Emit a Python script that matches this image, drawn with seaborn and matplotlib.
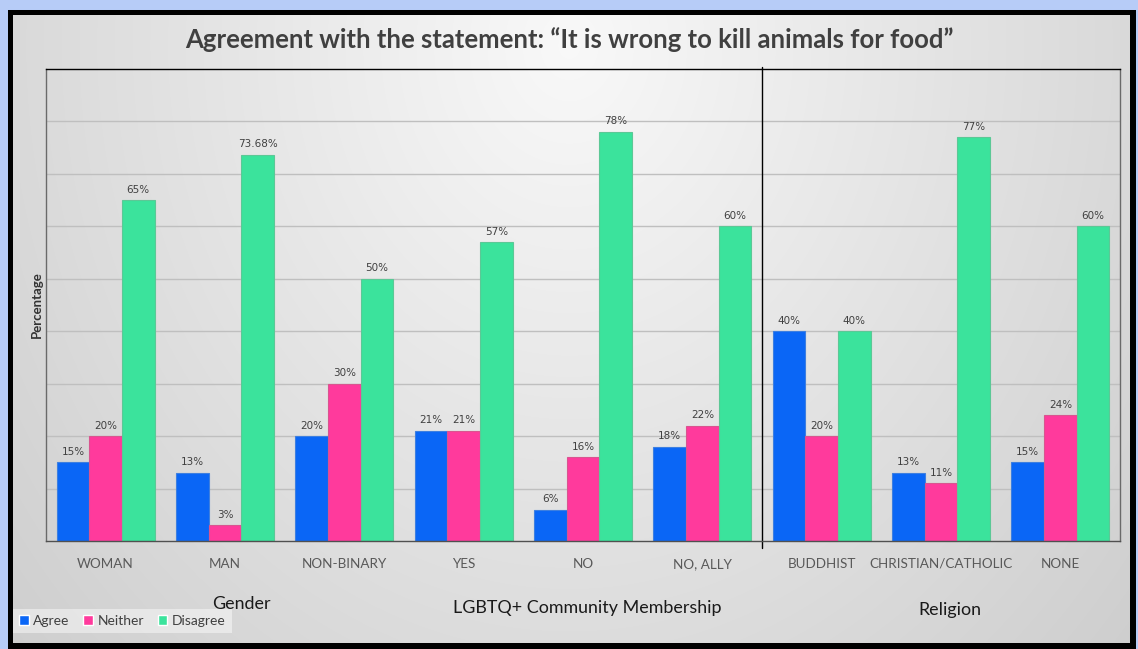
import numpy as np
import pandas as pd
import matplotlib
matplotlib.use("Agg")
import matplotlib.pyplot as plt
import seaborn as sns

# Survey responses by group (percent)
groups = ["WOMAN", "MAN", "NON-BINARY", "YES", "NO", "NO, ALLY",
          "BUDDHIST", "CHRISTIAN/CATHOLIC", "NONE"]
agree = [15, 13, 20, 21, 6, 18, 40, 13, 15]
neither = [20, 3, 30, 21, 16, 22, 20, 11, 24]
disagree = [65, 73.68, 50, 57, 78, 60, 40, 77, 60]
responses = ["Agree", "Neither", "Disagree"]
section_names = ["Gender", "LGBTQ+ Community Membership", "Religion"]

colors = {"Agree": "#0A66F6", "Neither": "#FF3A9C", "Disagree": "#3BE39C"}
edges = {"Agree": "#3D7FE0", "Neither": "#D9558F", "Disagree": "#5CC896"}

df = pd.DataFrame({
    "group": groups * 3,
    "response": sum([[r] * len(groups) for r in responses], []),
    "value": agree + neither + disagree,
})

sns.set_theme(style="white")
plt.rcParams["font.family"] = ["Lato", "DejaVu Sans"]

W, H = 1138, 649
fig = plt.figure(figsize=(W / 100, H / 100), dpi=100)

# Framed background: blue glow, black border, soft grey gradient inside
bg = fig.add_axes([0, 0, 1, 1], zorder=-10)
yy, xx = np.mgrid[0:H, 0:W]
img = np.zeros((H, W, 3))
glow = np.array([0.72, 0.80, 0.97])
img[:] = glow
img[10:, 8:1136] = 0.0
fx = (xx - W / 2) / (W * 0.62)
fy = (yy - 45) / (H * 1.3)
d = np.sqrt(fx ** 2 + fy ** 2)
shade = np.clip(0.975 - 0.156 * d, 0.79, 0.975)
inner = np.stack([shade] * 3, axis=-1)
img[15:643, 13:1130] = inner[15:643, 13:1130]
bg.imshow(img, aspect="auto", extent=(0, 1, 0, 1), interpolation="bilinear")
bg.set_axis_off()

ax = fig.add_axes([46 / W, 1 - 541 / H, (1120 - 46) / W, (541 - 69) / H])
ax.set_facecolor("none")

sns.barplot(data=df, x="group", y="value", hue="response", order=groups,
            hue_order=responses, palette=colors, width=0.82, ax=ax,
            saturation=1, errorbar=None)

for cont, resp in zip(ax.containers, responses):
    for patch in cont:
        patch.set_edgecolor(edges[resp])
        patch.set_linewidth(0.8)
    labels = [f"{v:.0f}%" if float(v).is_integer() else f"{v:.2f}%"
              for v in cont.datavalues]
    ax.bar_label(cont, labels=labels, padding=4, fontsize=7.5,
                 color="#404040", family=["DejaVu Sans"])

ax.set_ylim(0, 90)
ax.set_yticks(np.arange(10, 90, 10))
ax.set_yticklabels([])
ax.tick_params(axis="y", length=0)
ax.yaxis.grid(True, color="#bfbfbf", linewidth=1)
ax.set_axisbelow(True)
ax.set_xlim(-0.5, len(groups) - 0.5)
ax.tick_params(axis="x", length=0, pad=12, labelsize=9.7, labelcolor="#595959")
ax.set_xlabel("")
ax.set_ylabel("Percentage", fontsize=9.5, fontweight="bold", color="#333333",
              labelpad=-1)

for side in ["left", "right", "bottom"]:
    ax.spines[side].set_visible(True)
    ax.spines[side].set_color("#6a6a6a")
    ax.spines[side].set_linewidth(1)
ax.spines["bottom"].set_color("#505050")
ax.spines["top"].set_color("black")
ax.spines["top"].set_linewidth(1)

# Divider between demographic and religion groups
ax.axvline(5.5, ymin=-0.015, ymax=1.005, color="black", linewidth=1,
           clip_on=False)

fig.text(0.5, 1 - 40 / H,
         "Agreement with the statement: \u201cIt is wrong to kill animals for food\u201d",
         ha="center", va="center", fontsize=18.5, fontweight="bold",
         color="#404040")

for name, (px, py) in zip(section_names, [(241, 604), (587, 608), (950, 610)]):
    fig.text(px / W, 1 - py / H, name, ha="center", va="center",
             fontsize=12.9, color="#1a1a1a")

sns.move_legend(ax, loc="center left", bbox_to_anchor=(13 / W, 1 - 621 / H),
                bbox_transform=fig.transFigure, ncol=3, title=None,
                frameon=True, fontsize=10, handlelength=0.7,
                handleheight=0.7, handletextpad=0.3, columnspacing=1.0,
                borderpad=0.45, borderaxespad=0, fancybox=False)
leg = ax.get_legend()
leg.get_frame().set_facecolor("white")
leg.get_frame().set_alpha(0.45)
leg.get_frame().set_edgecolor("none")
for t in leg.get_texts():
    t.set_color("#404040")

fig.savefig("out.png", dpi=100)
